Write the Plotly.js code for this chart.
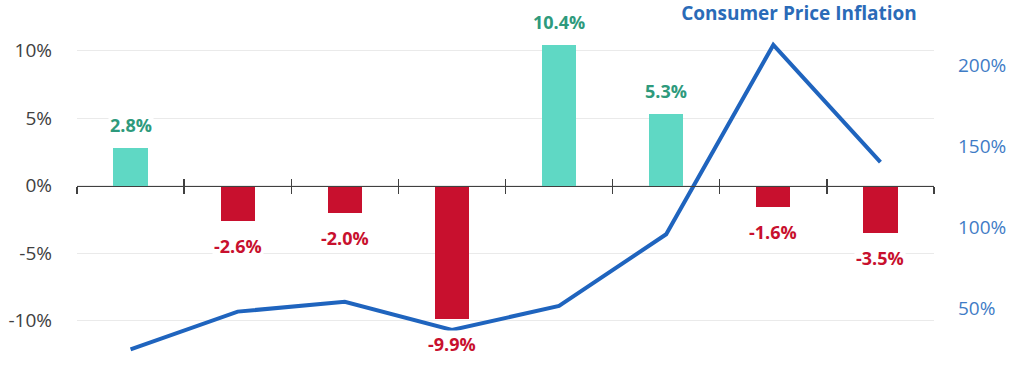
<!DOCTYPE html>
<html>
<head>
<meta charset="utf-8">
<script src="https://cdn.plot.ly/plotly-3.0.1.min.js"></script>
<style>html,body{margin:0;padding:0;background:#fff;}#chart{width:1024px;height:384px;}</style>
</head>
<body>
<div id="chart"></div>
<script>
// Data
const categories = ['P1', 'P2', 'P3', 'P4', 'P5', 'P6', 'P7', 'P8'];
const growthValues = [2.8, -2.6, -2.0, -9.9, 10.4, 5.3, -1.6, -3.5];
const inflationValues = [24.8, 48.0, 54.1, 36.7, 51.5, 95.7, 212.4, 140.1];
const leftTicks = [-15, -10, -5, 0, 5, 10];
const rightTicks = [0, 50, 100, 150, 200];

const posBar = '#5FD8C4', negBar = '#C8102E';
const posLabel = '#2E9A7C', negLabel = '#C8102E';
const lineColor = '#1F64BE';

const yRange = [-14.70, 13.74];
const y2Range = [3.39, 240.1];
const zeroPos = (0 - yRange[0]) / (yRange[1] - yRange[0]);

const bars = {
  type: 'bar',
  x: categories,
  y: growthValues,
  width: 0.32,
  marker: {color: growthValues.map(v => v >= 0 ? posBar : negBar)},
  xaxis: 'x', yaxis: 'y',
  hoverinfo: 'skip'
};

const line = {
  type: 'scatter',
  mode: 'lines',
  x: categories,
  y: inflationValues,
  line: {color: lineColor, width: 4},
  xaxis: 'x2', yaxis: 'y2',
  hoverinfo: 'skip'
};

const labelAnns = growthValues.map((v, i) => ({
  x: categories[i], y: v, xref: 'x', yref: 'y',
  text: v.toFixed(1) + '%',
  showarrow: false,
  yanchor: 'middle',
  yshift: v >= 0 ? 23 : -25,
  bgcolor: '#ffffff',
  borderpad: 1,
  font: {family: 'Open Sans', size: 18, color: v >= 0 ? posLabel : negLabel, weight: 'bold'}
}));

const layout = {
  width: 1024, height: 384,
  margin: {l: 77, r: 90, t: 0, b: 0, pad: 0},
  paper_bgcolor: '#ffffff', plot_bgcolor: 'rgba(0,0,0,0)',
  showlegend: false,
  bargap: 0,
  title: {
    text: '<b>Consumer Price Inflation</b>',
    xref: 'container', yref: 'container',
    x: 799 / 1024, xanchor: 'center',
    y: 1 - 13 / 384, yanchor: 'middle',
    font: {family: 'Open Sans', size: 19, color: '#2A6BB8'}
  },
  xaxis: {
    type: 'category', categoryarray: categories,
    range: [-0.5, categories.length - 0.5],
    anchor: 'free', position: zeroPos,
    showline: true, linecolor: '#404040', linewidth: 1.3,
    ticks: 'outside', tickson: 'boundaries', ticklen: 7, tickwidth: 1.3, tickcolor: '#404040',
    showticklabels: false, showgrid: false, zeroline: false, fixedrange: true
  },
  xaxis2: {
    type: 'category', categoryarray: categories,
    range: [-0.5, categories.length - 0.5],
    overlaying: 'x', anchor: 'free', position: zeroPos,
    showline: false,
    ticks: 'inside', tickson: 'boundaries', ticklen: 7, tickwidth: 1.3, tickcolor: '#404040',
    showticklabels: false, showgrid: false, zeroline: false, fixedrange: true
  },
  yaxis: {
    range: yRange,
    tickmode: 'array', tickvals: leftTicks, ticktext: leftTicks.map(t => t + '%'),
    showgrid: true, gridcolor: '#EAEAEA', gridwidth: 1,
    zeroline: false, showline: false, ticks: '',
    ticklabelstandoff: 24,
    tickfont: {family: 'Open Sans', size: 19, color: '#404040'},
    fixedrange: true
  },
  yaxis2: {
    range: y2Range, overlaying: 'y', side: 'right', anchor: 'x2',
    tickmode: 'array', tickvals: rightTicks, ticktext: rightTicks.map(t => t + '%'),
    showgrid: false, zeroline: false, showline: false, ticks: '',
    ticklabelstandoff: 23,
    tickfont: {family: 'Open Sans', size: 19, color: '#3F7CC6'},
    fixedrange: true
  },
  annotations: labelAnns
};

Plotly.newPlot('chart', [bars, line], layout, {displayModeBar: false, staticPlot: true});
</script>
</body>
</html>
